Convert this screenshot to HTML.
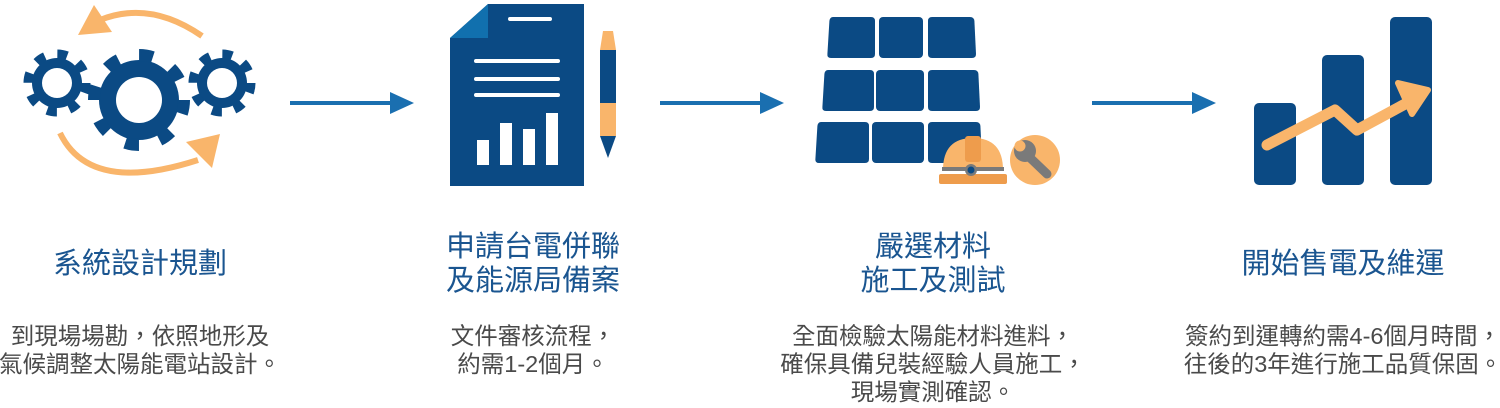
<!DOCTYPE html>
<html><head><meta charset="utf-8"><style>
html,body{margin:0;padding:0;background:#fff;}
svg{display:block;}
.t{font-family:"Liberation Sans","Noto Sans CJK TC",sans-serif;fill:#1a5590;font-size:29px;text-anchor:middle;}
.b{font-family:"Liberation Sans","Noto Sans CJK TC",sans-serif;fill:#4a4a4a;font-size:23.5px;text-anchor:middle;}
</style></head><body>
<svg width="1500" height="408" viewBox="0 0 1500 408" xmlns="http://www.w3.org/2000/svg">
<!-- gears -->
<g fill="#0b4a84">
 <circle cx="57" cy="83" r="25"/><circle cx="57" cy="83" r="29" fill="none" stroke="#0b4a84" stroke-width="9" stroke-dasharray="10 12.8"/>
 <circle cx="139" cy="100" r="40"/><circle cx="139" cy="100" r="45" fill="none" stroke="#0b4a84" stroke-width="12" stroke-dasharray="14 21.3"/>
 <circle cx="222" cy="83" r="25"/><circle cx="222" cy="83" r="29" fill="none" stroke="#0b4a84" stroke-width="9" stroke-dasharray="10 12.8"/>
</g>
<circle cx="57" cy="83" r="15" fill="#fff"/><circle cx="139" cy="100" r="23" fill="#fff"/><circle cx="222" cy="83" r="15" fill="#fff"/>
<path d="M100 20 Q150 0 202 36" fill="none" stroke="#f9b56b" stroke-width="6"/>
<polygon points="78,35 112,32 94,5" fill="#f9b56b"/>
<path d="M60 133 Q90 195 198 160" fill="none" stroke="#f9b56b" stroke-width="6"/>
<polygon points="220,134 186,142 212,168" fill="#f9b56b"/>
<!-- arrows -->
<g stroke="#1a6fb0" stroke-width="4"><line x1="290" y1="103" x2="395" y2="103"/><line x1="660" y1="103" x2="765" y2="103"/><line x1="1092" y1="103" x2="1197" y2="103"/></g>
<g fill="#1a6fb0"><polygon points="390,92 414,103 390,114"/><polygon points="760,92 784,103 760,114"/><polygon points="1192,92 1216,103 1192,114"/></g>
<!-- document -->
<polygon points="488,4 584,4 584,186 450,186 450,38" fill="#0b4a84"/>
<polygon points="488,4 488,38 450,38" fill="#1170ae"/>
<g stroke="#fff" stroke-width="4" stroke-linecap="round"><line x1="510" y1="19" x2="550" y2="19"/><line x1="476" y1="61" x2="558" y2="61"/><line x1="476" y1="79" x2="558" y2="79"/><line x1="476" y1="95" x2="558" y2="95"/></g>
<g fill="#fff"><rect x="477" y="140" width="12" height="25"/><rect x="500" y="123" width="12" height="42"/><rect x="523" y="129" width="12" height="36"/><rect x="546" y="113" width="12" height="52"/></g>
<polygon points="603,31 613,31 616,50 600,50" fill="#f9b56b"/>
<rect x="600" y="50" width="16" height="53" fill="#0b4a84"/>
<rect x="600" y="103" width="16" height="33" fill="#f9b56b"/>
<polygon points="600,136 616,136 608,158" fill="#0b4a84"/>
<!-- solar -->
<g fill="#0b4a84">
 <path d="M833 17 h38 q4 0 4 4 v33 q0 4 -4 4 h-40 q-4 0 -3.6 -4 l2 -33 q0.6 -4 3.6 -4z"/>
 <rect x="879" y="17" width="44" height="41" rx="4"/>
 <path d="M932 17 h38 q4 0 4.4 4 l1.6 33 q0 4 -4 4 h-40 q-4 0 -4 -4 v-33 q0 -4 4 -4z"/>
 <path d="M828 70 h42 q4 0 4 4 v33 q0 4 -4 4 h-44 q-4 0 -3.6 -4 l2 -33 q0.6 -4 3.6 -4z"/>
 <rect x="876" y="70" width="48" height="41" rx="4"/>
 <path d="M932 70 h42 q4 0 4.4 4 l1.6 33 q0 4 -4 4 h-44 q-4 0 -4 -4 v-33 q0 -4 4 -4z"/>
 <path d="M821 122 h44 q4 0 4 4 v33 q0 4 -4 4 h-46 q-4 0 -3.6 -4 l2 -33 q0.6 -4 3.6 -4z"/>
 <rect x="872" y="122" width="52" height="41" rx="4"/>
 <path d="M932 122 h44 q4 0 4.4 4 l1.6 33 q0 4 -4 4 h-46 q-4 0 -4 -4 v-33 q0 -4 4 -4z"/>
</g>
<path d="M943 170 q0 -32 30 -32 q30 0 30 32z" fill="#f9b56b"/>
<rect x="965" y="136" width="16" height="26" rx="3" fill="#ee9c4c"/>
<rect x="939" y="174" width="68" height="10" rx="2" fill="#ee9c4c"/>
<rect x="942" y="167" width="62" height="4" fill="#7a7a7a"/>
<circle cx="971" cy="170" r="6" fill="#7a7a7a"/><circle cx="971" cy="170" r="3.5" fill="#0b4a84"/>
<circle cx="1035" cy="160" r="25" fill="#f9b56b"/>
<path d="M1024 152 l23 22" stroke="#7a7a7a" stroke-width="9" stroke-linecap="round"/>
<circle cx="1025" cy="151" r="11" fill="#7a7a7a"/><circle cx="1020" cy="146" r="5.5" fill="#f9b56b"/>
<!-- chart -->
<g fill="#0b4a84"><rect x="1254" y="103" width="42" height="82" rx="5"/><rect x="1322" y="55" width="42" height="130" rx="5"/><rect x="1390" y="17" width="42" height="168" rx="5"/></g>
<polyline points="1267,145 1335,110 1357,130 1418,97" fill="none" stroke="#f9b56b" stroke-width="11" stroke-linecap="round" stroke-linejoin="round"/>
<polygon points="1398,83 1428,90 1412,114" fill="#f9b56b" stroke="#f9b56b" stroke-width="6" stroke-linejoin="round"/>
<!-- text -->
<text class="t" x="140" y="273">系統設計規劃</text>
<text class="t" x="533" y="256">申請台電併聯</text>
<text class="t" x="533" y="290">及能源局備案</text>
<text class="t" x="933" y="256">嚴選材料</text>
<text class="t" x="933" y="290">施工及測試</text>
<text class="t" x="1343" y="273">開始售電及維運</text>
<text class="b" x="140" y="344">到現場場勘，依照地形及</text>
<text class="b" x="140" y="372">氣候調整太陽能電站設計。</text>
<text class="b" x="533" y="344">文件審核流程，</text>
<text class="b" x="533" y="372">約需1-2個月。</text>
<text class="b" x="933" y="344">全面檢驗太陽能材料進料，</text>
<text class="b" x="933" y="372">確保具備兒裝經驗人員施工，</text>
<text class="b" x="933" y="400">現場實測確認。</text>
<text class="b" x="1343" y="344">簽約到運轉約需4-6個月時間，</text>
<text class="b" x="1343" y="372">往後的3年進行施工品質保固。</text>
</svg>
</body></html>
